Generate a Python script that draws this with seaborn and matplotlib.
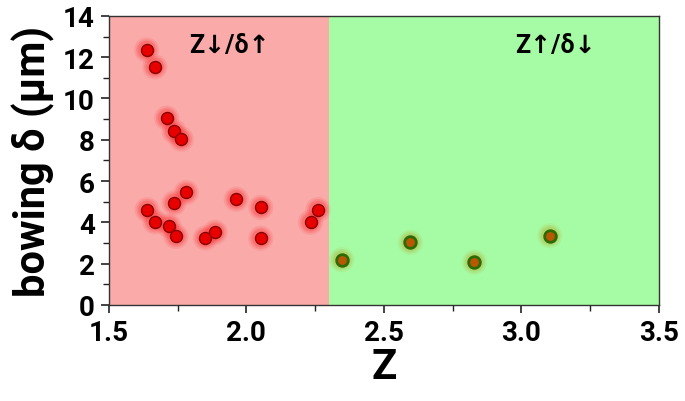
import numpy as np
import pandas as pd
import seaborn as sns
import matplotlib.pyplot as plt
from matplotlib.ticker import MultipleLocator

# valeurs
z_low = [1.637, 1.667, 1.710, 1.737, 1.763, 1.781, 1.737, 1.639, 1.667,
         1.718, 1.744, 1.851, 1.886, 1.963, 2.052, 2.052, 2.233, 2.260]
bow_low = [12.35, 11.53, 9.05, 8.40, 8.03, 5.45, 4.94, 4.61, 4.03,
           3.83, 3.32, 3.24, 3.52, 5.12, 4.72, 3.23, 4.00, 4.61]
z_high = [2.347, 2.596, 2.829, 3.103]
bow_high = [2.19, 3.03, 2.07, 3.35]

z_split = 2.3
x_ticks = [1.5, 2.0, 2.5, 3.0, 3.5]
y_ticks = [0, 2, 4, 6, 8, 10, 12, 14]

sns.set_style("ticks", {'text.color': 'black', 'axes.labelcolor': 'black',
                        'xtick.color': 'black', 'ytick.color': 'black'})
plt.rcParams['font.family'] = ['Roboto', 'DejaVu Sans']
W = 'bold'

low = pd.DataFrame({'Z': z_low, 'bowing': bow_low})
high = pd.DataFrame({'Z': z_high, 'bowing': bow_high})

fig, ax = plt.subplots(figsize=(6.85, 4.02), dpi=100)
fig.subplots_adjust(left=0.159, right=0.962, top=0.958, bottom=0.239)

ax.axvspan(x_ticks[0], z_split, color='#F9AAA9', zorder=0, lw=0)
ax.axvspan(z_split, x_ticks[-1], color='#A6FCA4', zorder=0, lw=0)

# halo autour des points
for s, a in [(330, 0.10), (240, 0.15), (170, 0.2)]:
    sns.scatterplot(data=low, x='Z', y='bowing', ax=ax, s=s, color='#FF2020',
                    alpha=a, edgecolor='none', legend=False, zorder=2)
    sns.scatterplot(data=high, x='Z', y='bowing', ax=ax, s=s, color='#B8A020',
                    alpha=a, edgecolor='none', legend=False, zorder=2)

sns.scatterplot(data=low, x='Z', y='bowing', ax=ax, s=75, color='#E80000',
                edgecolor='#8A0000', linewidth=1.0, legend=False, zorder=3)
sns.scatterplot(data=high, x='Z', y='bowing', ax=ax, s=70, color='#B85800',
                edgecolor='#2E6A00', linewidth=2.0, legend=False, zorder=3)

ax.text(1.937, 12.6, 'Z↓/δ↑', ha='center', va='center', fontsize=18,
        fontweight=W, color='black', family=['Roboto', 'DejaVu Sans'])
ax.text(3.124, 12.6, 'Z↑/δ↓', ha='center', va='center', fontsize=18,
        fontweight=W, color='black', family=['Roboto', 'DejaVu Sans'])

ax.set_xlim(x_ticks[0], x_ticks[-1])
ax.set_ylim(y_ticks[0], y_ticks[-1])
ax.set_xticks(x_ticks)
ax.set_xticklabels([f'{v:.1f}' for v in x_ticks])
ax.set_yticks(y_ticks)
ax.xaxis.set_minor_locator(MultipleLocator(0.25))
ax.yaxis.set_minor_locator(MultipleLocator(1))
ax.tick_params(which='major', length=6, width=1.2, labelsize=20, pad=4,
               color='#222222', labelcolor='black')
ax.tick_params(which='minor', length=4, width=1.0, color='#222222')
for lab in ax.get_xticklabels() + ax.get_yticklabels():
    lab.set_fontweight(W)

for sp in ax.spines.values():
    sp.set_color('#333333')
    sp.set_linewidth(1.0)
    sp.set_zorder(4)

ax.set_xlabel('Z', fontsize=30, fontweight=W, labelpad=0, color='black')
ax.set_ylabel('bowing δ (μm)', fontsize=30, fontweight=W, labelpad=6, color='black')

fig.savefig('out.png', dpi=100)
